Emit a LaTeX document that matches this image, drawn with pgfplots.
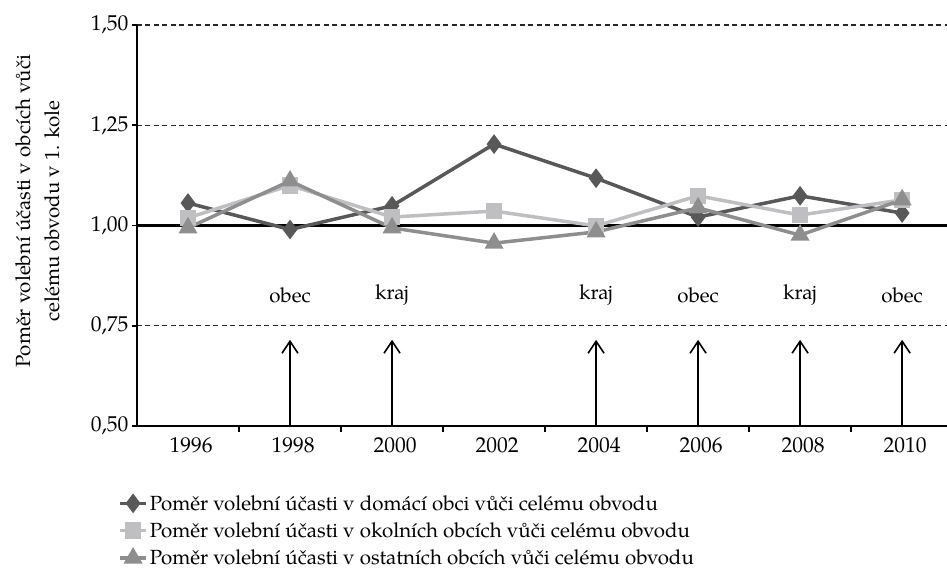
\documentclass[border=0pt]{standalone}
\usepackage{fontspec}
\setmainfont{texgyrepagella}[Extension=.otf, UprightFont=*-regular, BoldFont=*-bold, ItalicFont=*-italic, BoldItalicFont=*-bolditalic]
\usepackage{pgfplots}
\pgfplotsset{compat=1.18}
\usetikzlibrary{arrows.meta}
\definecolor{sdark}{RGB}{88,88,88}
\definecolor{slight}{RGB}{191,191,194}
\definecolor{smid}{RGB}{142,142,142}
\newcommand\myfont{\fontsize{20.5bp}{29bp}\selectfont}
\newcommand\tickfont{\fontsize{21.5bp}{25bp}\selectfont}
\tikzset{evarrow/.style={line width=1.6bp, -{Straight Barb[length=12bp,width=16bp,line width=1.6bp]}}}
\begin{document}
\begin{tikzpicture}[font=\myfont]
\path[use as bounding box] (-137bp,-151bp) rectangle (810bp,426bp);
\begin{axis}[
  at={(0,0)}, anchor=south west,
  scale only axis, width=810bp, height=401bp,
  xmin=-0.5, xmax=7.44, ymin=0.5, ymax=1.5,
  axis x line*=bottom, axis y line*=left,
  axis line style={-, line width=1.6bp, black},
  tick style={line width=1.6bp, black},
  tick align=outside,
  xtick={0,...,7},
  xticklabels={1996,1998,2000,2002,2004,2006,2008,2010},
  major x tick style={draw=none},
  minor xtick={0.5,1.5,...,6.5},
  minor tick length=6bp,
  major tick length=5bp,
  ytick={0.5,0.75,1,1.25,1.5},
  ymajorgrids,
  major grid style={dash pattern=on 5bp off 3.5bp, line width=1.1bp, black!85},
  tick label style={font=\tickfont},
  yticklabel style={/pgf/number format/.cd, use comma, fixed, fixed zerofill, precision=2, assume math mode=true},
  xticklabel style={/pgf/number format/assume math mode=true, yshift=-3bp, xshift=3bp},
  legend style={at={(axis description cs:-0.027,-0.162)}, anchor=north west, draw=none, fill=none, row sep=7bp, font=\myfont},
  legend cell align=left,
  legend image code/.code={\draw[mark repeat=2,mark phase=2] plot coordinates {(0bp,0bp)(13bp,0bp)(26bp,0bp)};},
  clip=false,
]
\addplot[black, line width=3.2bp, forget plot] coordinates {(-0.5,1) (7.44,1)};
\addplot[sdark, line width=3.5bp, mark=diamond*, mark size=7bp, mark options={solid}] coordinates {
 (0,1.056) (1,0.990) (2,1.049) (3,1.203) (4,1.118) (5,1.021) (6,1.074) (7,1.031)};
\addlegendentry{Poměr volební účasti v domácí obci vůči celému obvodu}
\addplot[slight, line width=3.5bp, mark=square*, mark size=6.5bp, mark options={solid}] coordinates {
 (0,1.019) (1,1.100) (2,1.021) (3,1.036) (4,0.999) (5,1.074) (6,1.026) (7,1.064)};
\addlegendentry{Poměr volební účasti v okolních obcích vůči celému obvodu}
\addplot[smid, line width=3.5bp, mark=triangle*, mark size=7.5bp, mark options={solid}] coordinates {
 (0,0.994) (1,1.111) (2,0.994) (3,0.956) (4,0.984) (5,1.044) (6,0.976) (7,1.064)};
\addlegendentry{Poměr volební účasti v ostatních obcích vůči celému obvodu}
\draw[evarrow] (axis cs:1,0.5) -- (axis cs:1,0.715);
\draw[evarrow] (axis cs:2,0.5) -- (axis cs:2,0.715);
\draw[evarrow] (axis cs:4,0.5) -- (axis cs:4,0.715);
\draw[evarrow] (axis cs:5,0.5) -- (axis cs:5,0.715);
\draw[evarrow] (axis cs:6,0.5) -- (axis cs:6,0.715);
\draw[evarrow] (axis cs:7,0.5) -- (axis cs:7,0.715);
\node[font=\myfont] at (axis cs:1,0.826) {obec};
\node[font=\myfont] at (axis cs:2,0.826) {kraj};
\node[font=\myfont] at (axis cs:4,0.826) {kraj};
\node[font=\myfont] at (axis cs:5,0.826) {obec};
\node[font=\myfont] at (axis cs:6,0.826) {kraj};
\node[font=\myfont] at (axis cs:7,0.826) {obec};
\node[font=\myfont, rotate=90, align=center, anchor=center] at (axis description cs:-0.123,0.536)
  {Poměr volební účasti v obcích vůči\\celému obvodu v 1. kole};
\end{axis}
\end{tikzpicture}
\end{document}
